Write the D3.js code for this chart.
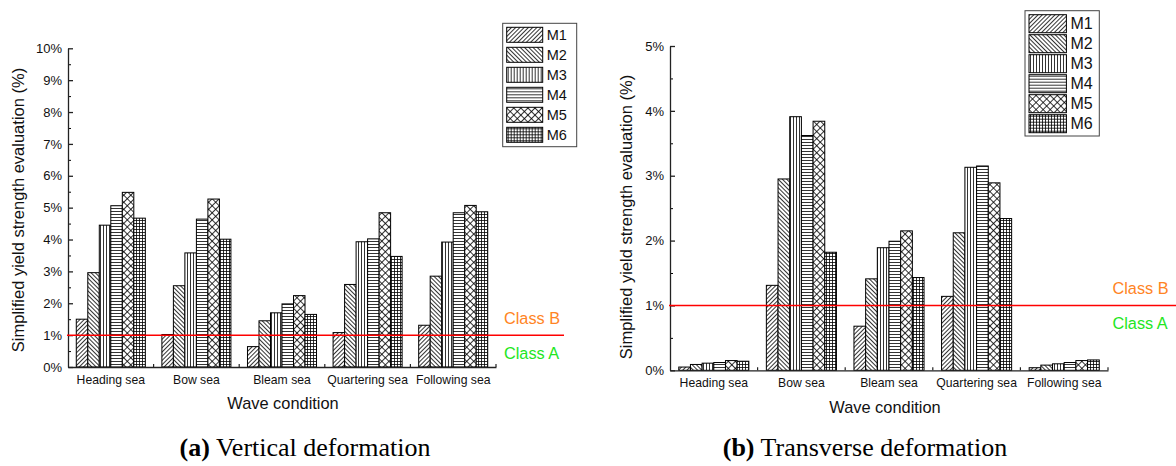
<!DOCTYPE html>
<html><head><meta charset="utf-8">
<script src="https://cdn.jsdelivr.net/npm/d3@7"></script>
<style>html,body{margin:0;padding:0;background:#fff;}svg{display:block;font-family:Arial,"Liberation Sans",sans-serif;}</style>
</head><body>
<svg id="chart" width="1176" height="466"></svg>
<script>
const categories = ["Heading sea","Bow sea","Bleam sea","Quartering sea","Following sea"];
const series = ["M1","M2","M3","M4","M5","M6"];
// (a) Vertical deformation, % per series across categories
const verticalM1 = [1.50, 1.02, 0.64, 1.08, 1.31];
const verticalM2 = [2.96, 2.55, 1.45, 2.59, 2.85];
const verticalM3 = [4.45, 3.58, 1.70, 3.93, 3.92];
const verticalM4 = [5.06, 4.64, 1.98, 4.02, 4.84];
const verticalM5 = [5.48, 5.27, 2.24, 4.84, 5.07];
const verticalM6 = [4.67, 4.01, 1.65, 3.47, 4.87];
// (b) Transverse deformation
const transverseM1 = [0.05, 1.31, 0.68, 1.14, 0.04];
const transverseM2 = [0.09, 2.95, 1.41, 2.12, 0.08];
const transverseM3 = [0.11, 3.91, 1.89, 3.13, 0.10];
const transverseM4 = [0.12, 3.62, 1.99, 3.15, 0.12];
const transverseM5 = [0.15, 3.84, 2.15, 2.89, 0.15];
const transverseM6 = [0.14, 1.82, 1.43, 2.34, 0.16];
const verticalTicks = [0,1,2,3,4,5,6,7,8,9,10];
const transverseTicks = [0,1,2,3,4,5];
const classLimit = 1;
const captions = [["(a)"," Vertical deformation"],["(b)"," Transverse deformation"]];

const svg = d3.select("#chart");
const defs = svg.append("defs");

function pat(id, w, h, rot, draw){
  const p = defs.append("pattern").attr("id",id).attr("patternUnits","userSpaceOnUse")
    .attr("width",w).attr("height",h);
  if (rot) p.attr("patternTransform","rotate("+rot+")");
  p.append("rect").attr("width",w).attr("height",h).attr("fill","#fff");
  draw(p);
}
const ls = {stroke:"#000","stroke-width":0.8};
function ln(p,x1,y1,x2,y2){ const l=p.append("line").attr("x1",x1).attr("y1",y1).attr("x2",x2).attr("y2",y2); for(const k in ls) l.attr(k,ls[k]); }
pat("pM1",3,3,45,p=>ln(p,0.5,-1,0.5,4));
pat("pM2",3,3,-45,p=>ln(p,0.5,-1,0.5,4));
pat("pM3",3,3,0,p=>ln(p,1.5,-1,1.5,4));
pat("pM4",3,3,0,p=>ln(p,-1,1.5,4,1.5));
pat("pM5",5,5,45,p=>{ln(p,0.5,-1,0.5,6);ln(p,-1,0.5,6,0.5);});
pat("pM6",3,3,0,p=>{ln(p,1.5,-1,1.5,4);ln(p,-1,1.5,4,1.5);});

function panel(cfg){
  const g = svg.append("g");
  const y = d3.scaleLinear().domain([0,cfg.max]).range([cfg.y0,cfg.y1]);
  const x = d3.scaleBand().domain(categories).range([cfg.x0,cfg.x1]).padding(0);
  const xs = d3.scaleBand().domain(series).range([0,x.bandwidth()]).paddingInner(0).paddingOuter(cfg.pad);
  // bars
  series.forEach((s,si)=>{
    g.append("g").selectAll("rect").data(cfg.values[si]).join("rect")
      .attr("x",(d,i)=>x(categories[i])+xs(s))
      .attr("y",d=>y(d))
      .attr("width",xs.bandwidth())
      .attr("height",d=>y(0)-y(d))
      .attr("fill","url(#p"+s+")")
      .attr("stroke","#000").attr("stroke-width",1);
  });
  // y axis
  const minor = d3.range(0, cfg.max+0.001, 0.5).filter(v=>Math.abs(v-Math.round(v))>0.01);
  g.append("g").attr("transform","translate("+cfg.x0+",0)")
    .call(d3.axisLeft(y).tickValues(minor).tickSize(-3).tickFormat(""))
    .call(a=>a.select(".domain").remove());
  const ya = g.append("g").attr("transform","translate("+cfg.x0+",0)")
    .call(d3.axisLeft(y).tickValues(cfg.ticks).tickSize(-5).tickSizeOuter(0).tickPadding(6).tickFormat(d=>d+"%"));
  ya.selectAll("text").attr("font-size",13).attr("fill","#111").attr("font-family","Arial, 'Liberation Sans', sans-serif");
  ya.selectAll("line,path").attr("stroke","#222").attr("stroke-width",1.3);
  // x axis
  const xa = g.append("g").attr("transform","translate(0,"+cfg.y0+")")
    .call(d3.axisBottom(x).tickSize(0).tickPadding(cfg.catPad));
  xa.selectAll("text").attr("font-size",12.2).attr("fill","#111").attr("font-family","Arial, 'Liberation Sans', sans-serif");
  xa.select(".domain").attr("stroke","#222").attr("stroke-width",1.3);
  g.append("g").selectAll("line").data(categories.slice(1).concat(["__end"])).join("line")
    .attr("x1",d=>d==="__end"?cfg.x1:x(d)).attr("x2",d=>d==="__end"?cfg.x1:x(d))
    .attr("y1",cfg.y0).attr("y2",cfg.y0-3).attr("stroke","#222").attr("stroke-width",1.2);
  // class line
  g.append("line").attr("x1",cfg.x0-1).attr("x2",cfg.redEnd)
    .attr("y1",y(classLimit)).attr("y2",y(classLimit)).attr("stroke","#ff0000").attr("stroke-width",1.5);
  g.append("text").attr("x",cfg.classX).attr("y",y(classLimit)-17).attr("dy","0.35em")
    .attr("font-size",16.3).attr("fill","#ff8424").text("Class B");
  g.append("text").attr("x",cfg.classX).attr("y",y(classLimit)+18).attr("dy","0.35em")
    .attr("font-size",16.3).attr("fill","#22e622").text("Class A");
  // titles
  g.append("text").attr("transform","translate("+cfg.ytx+","+cfg.yty+") rotate(-90)")
    .attr("text-anchor","middle").attr("dy","0.35em").attr("font-size",16.5).attr("fill","#111")
    .text("Simplified yield strength evaluation (%)");
  g.append("text").attr("x",cfg.xtx).attr("y",cfg.xty).attr("text-anchor","middle")
    .attr("font-size",16.4).attr("fill","#111").text("Wave condition");
  // legend
  const L = cfg.legend;
  g.append("rect").attr("x",L.x).attr("y",L.y).attr("width",L.w).attr("height",L.h)
    .attr("fill","#fff").attr("stroke","#444").attr("stroke-width",1);
  const lg = g.append("g").selectAll("g").data(series).join("g")
    .attr("transform",(d,i)=>"translate("+(L.x+4)+","+(L.y+4+i*20)+")");
  lg.append("rect").attr("width",L.sw).attr("height",L.sh).attr("fill",d=>"url(#p"+d+")")
    .attr("stroke","#000").attr("stroke-width",1);
  lg.append("text").attr("x",L.sw+4).attr("y",L.sh/2).attr("dy","0.36em")
    .attr("font-size",L.fs).attr("fill","#111").text(d=>d);
  // caption
  const c = g.append("text").attr("x",cfg.capX).attr("y",456).attr("text-anchor","middle")
    .attr("font-family","'Liberation Serif','Times New Roman',serif").attr("font-size",26).attr("fill","#000");
  c.append("tspan").attr("font-weight","bold").text(cfg.caption[0]);
  c.append("tspan").text(cfg.caption[1]);
}

panel({x0:68,x1:496,y0:367,y1:48.3,max:10,ticks:verticalTicks,pad:0.72,
  values:[verticalM1,verticalM2,verticalM3,verticalM4,verticalM5,verticalM6],
  catPad:8,redEnd:564,classX:504,ytx:18.5,yty:210,xtx:283,xty:409,
  legend:{x:502.7,y:23.3,w:74,h:123.4,sw:36,sh:15,fs:14.5},capX:305,caption:captions[0]});
panel({x0:670,x1:1108,y0:370.3,y1:46,max:5,ticks:transverseTicks,pad:0.75,
  values:[transverseM1,transverseM2,transverseM3,transverseM4,transverseM5,transverseM6],
  catPad:8,redEnd:1176,classX:1112.5,ytx:626.5,yty:217,xtx:885,xty:413,
  legend:{x:1025,y:10.7,w:74.3,h:125.3,sw:37.4,sh:18,fs:16},capX:865,caption:captions[1]});
</script>
</body></html>
